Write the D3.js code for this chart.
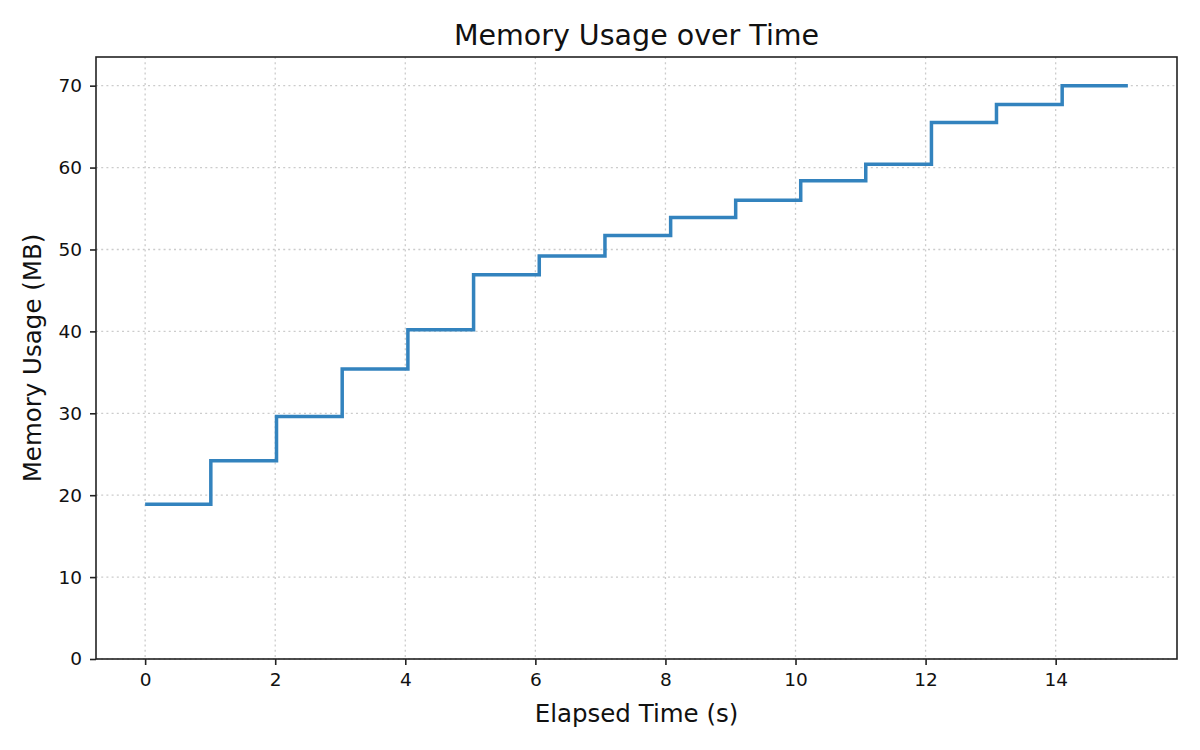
<!DOCTYPE html>
<html>
<head>
<meta charset="utf-8">
<script src="https://cdn.jsdelivr.net/npm/d3@7"></script>
<style>
  body { margin: 0; background: #fff; }
  svg { font-family: "DejaVu Sans", sans-serif; }
</style>
</head>
<body>
<div id="chart"></div>
<script>
// Data
var elapsed = [0, 1.01, 2.02, 3.03, 4.04, 5.05, 6.06, 7.07, 8.08, 9.08, 10.08, 11.08, 12.09, 13.09, 14.1, 15.11];
var memoryMB = [18.9, 24.2, 29.6, 35.4, 40.2, 46.9, 49.2, 51.7, 53.9, 56.0, 58.4, 60.4, 65.5, 67.7, 70.0, 70.0];
var xTicks = [0, 2, 4, 6, 8, 10, 12, 14];
var yTicks = [0, 10, 20, 30, 40, 50, 60, 70];

var svgWidth = 1200;
var svgHeight = 750;

var margin = { top: 57, right: 23, bottom: 91, left: 96 };
var width = svgWidth - margin.left - margin.right;
var height = svgHeight - margin.top - margin.bottom;

var svg = d3.select("#chart")
  .append("svg")
  .attr("width", svgWidth)
  .attr("height", svgHeight);

var chartGroup = svg.append("g")
  .attr("transform", `translate(${margin.left}, ${margin.top})`);

// scales (matplotlib-ish 5% x margin, y from 0)
var xPad = (d3.max(elapsed) - d3.min(elapsed)) * 0.05;
var xScale = d3.scaleLinear()
  .domain([d3.min(elapsed) - xPad, d3.max(elapsed) + xPad])
  .range([0, width]);

var yScale = d3.scaleLinear()
  .domain([0, d3.max(memoryMB) * 1.05])
  .range([height, 0]);

// grid
chartGroup.append("g")
  .selectAll("line.vgrid")
  .data(xTicks)
  .enter().append("line")
  .attr("x1", d => xScale(d)).attr("x2", d => xScale(d))
  .attr("y1", 0).attr("y2", height)
  .attr("stroke", "#cccccc").attr("stroke-width", 1.3)
  .attr("stroke-dasharray", "2,3.2");

chartGroup.append("g")
  .selectAll("line.hgrid")
  .data(yTicks)
  .enter().append("line")
  .attr("x1", 0).attr("x2", width)
  .attr("y1", d => yScale(d)).attr("y2", d => yScale(d))
  .attr("stroke", "#cccccc").attr("stroke-width", 1.3)
  .attr("stroke-dasharray", "2,3.2");

// step line
var line = d3.line()
  .x((d, i) => xScale(elapsed[i]))
  .y(d => yScale(d))
  .curve(d3.curveStepAfter);

chartGroup.append("path")
  .datum(memoryMB)
  .attr("fill", "none")
  .attr("stroke", "#3383be")
  .attr("stroke-width", 3.5)
  .attr("d", line);

// axes
var bottomAxis = d3.axisBottom(xScale).tickValues(xTicks).tickSize(6).tickPadding(8);
var leftAxis = d3.axisLeft(yScale).tickValues(yTicks).tickSize(6).tickPadding(8);

var xg = chartGroup.append("g")
  .attr("transform", `translate(0, ${height})`)
  .call(bottomAxis);
var yg = chartGroup.append("g")
  .call(leftAxis);

[xg, yg].forEach(function(g) {
  g.select(".domain").remove();
  g.selectAll(".tick line").attr("stroke", "#222").attr("stroke-width", 1.6);
  g.selectAll(".tick text")
    .attr("fill", "#111")
    .style("font-size", "18.5px")
    .style("font-family", "DejaVu Sans");
});

// frame
chartGroup.append("rect")
  .attr("x", 0).attr("y", 0)
  .attr("width", width).attr("height", height)
  .attr("fill", "none")
  .attr("stroke", "#222")
  .attr("stroke-width", 1.6);

// labels
svg.append("text")
  .attr("x", margin.left + width / 2)
  .attr("y", 45)
  .attr("text-anchor", "middle")
  .style("font-size", "28.5px")
  .attr("fill", "#111")
  .text("Memory Usage over Time");

svg.append("text")
  .attr("x", margin.left + width / 2)
  .attr("y", 722)
  .attr("text-anchor", "middle")
  .style("font-size", "24.5px")
  .attr("fill", "#111")
  .text("Elapsed Time (s)");

svg.append("text")
  .attr("transform", `translate(41, ${margin.top + height / 2}) rotate(-90)`)
  .attr("text-anchor", "middle")
  .style("font-size", "24.5px")
  .attr("fill", "#111")
  .text("Memory Usage (MB)");
</script>
</body>
</html>
